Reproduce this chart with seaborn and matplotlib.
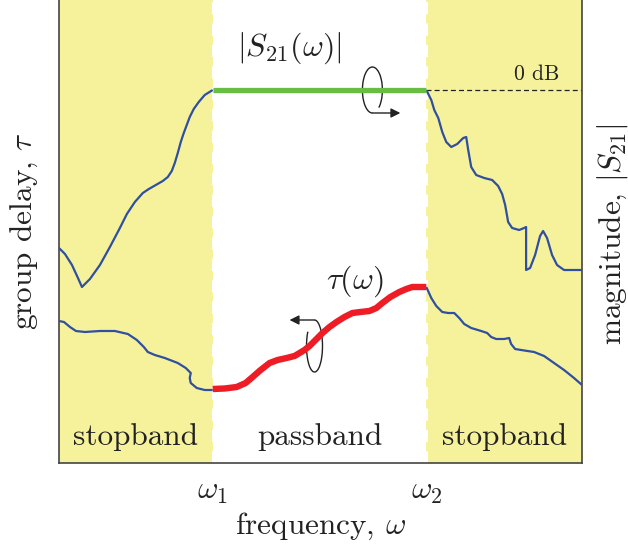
import numpy as np
import pandas as pd
import matplotlib.pyplot as plt
import seaborn as sns
from matplotlib.patches import Arc

sns.set_theme(style="white")
plt.rcParams['font.family'] = ['serif']
plt.rcParams['font.serif'] = ['cmr10', 'DejaVu Serif']
plt.rcParams['mathtext.fontset'] = 'cm'
plt.rcParams['axes.formatter.use_mathtext'] = True

# band edges (frequency units)
w1, w2 = 154, 368
x_max, y_max = 524, 463

# |S21| in lower stopband
mag_low_x = [0, 6, 13, 19, 23, 31, 41, 51, 61, 68, 76, 84, 90, 97, 104, 109, 113, 116, 119, 122, 125,
             128, 131, 135, 140, 146, 154]
mag_low_y = [215, 209, 198, 185, 176, 184, 198, 216, 235, 249, 261, 270, 274, 278, 282, 286, 292, 300, 310, 321, 330,
             338, 346, 354, 361, 368, 373]

# |S21| in passband (0 dB)
mag_pass_x = [154, 368]
mag_pass_y = [373, 373]

# |S21| in upper stopband
mag_high_x = [368, 373, 376, 380, 384, 388, 393, 399, 405, 408, 410, 413, 418, 426, 434, 440, 444, 447, 450,
              454, 461, 466, 468, 468, 472, 477, 482, 485, 489, 494, 499, 506, 516, 524]
mag_high_y = [373, 363, 353, 345, 331, 321, 316, 319, 325, 326, 313, 296, 288, 285, 283, 277, 269, 258, 241,
              235, 233, 235, 236, 193, 195, 208, 227, 232, 225, 208, 198, 193, 193, 193]

# group delay in lower stopband
tau_low_x = [0, 5, 11, 17, 26, 41, 56, 69, 78, 85, 89, 96, 106, 119, 127, 132, 131, 132, 138, 146, 154]
tau_low_y = [142, 141, 136, 132, 131, 132, 132, 129, 123, 116, 111, 108, 105, 100, 95, 90, 85, 80, 75, 73, 73]

# group delay in passband
tau_pass_x = [154, 166, 178, 187, 194, 202, 211, 219, 228, 236, 241, 246, 251, 257, 264, 271, 278, 286, 294,
              302, 311, 318, 324, 332, 341, 348, 354, 361, 368]
tau_pass_y = [74, 74.5, 76, 80, 86, 93, 100, 103, 105, 107, 110, 113, 117, 123, 130, 136, 141, 146, 150,
              151, 152, 155, 160, 166, 171, 174, 176, 176, 176]

# group delay in upper stopband
tau_high_x = [368, 373, 378, 384, 390, 396, 401, 406, 413, 423, 429, 433, 438, 446, 451, 453, 457, 463, 476,
              486, 496, 506, 516, 524]
tau_high_y = [176, 165, 157, 151, 150, 150, 145, 139, 135, 132, 130, 126, 124, 124, 125, 119, 114, 113, 111,
              107, 100, 93, 85, 78]

band_labels = ['stopband', 'passband', 'stopband']

yellow = '#f6f29b'
blue = '#2f4fa2'
green = '#68bd45'
red = '#ee1d25'
ink = '#222222'

fig = plt.figure(figsize=(6.28, 5.5), dpi=100)
ax = fig.add_axes([59 / 628, 1 - 463 / 550, 523 / 628, 463 / 550])

ax.axvspan(0, w1, color=yellow, lw=0)
ax.axvspan(w2, x_max, color=yellow, lw=0)
for edge in (w1, w2):
    ax.axvline(edge, color='white', lw=2.2, ls=(0, (4, 3)))


def draw(xs, ys, color, lw, z=3):
    df = pd.DataFrame({'x': xs, 'y': ys})
    sns.lineplot(data=df, x='x', y='y', ax=ax, color=color, lw=lw, zorder=z,
                 sort=False, estimator=None, solid_capstyle='butt', solid_joinstyle='round')


draw(mag_low_x, mag_low_y, blue, 1.6)
draw(mag_high_x, mag_high_y, blue, 1.6)
draw(tau_low_x, tau_low_y, blue, 1.6)
draw(tau_high_x, tau_high_y, blue, 1.6)

# rotation arrows (behind the thick curves)
ax.add_patch(Arc((314, 373), 20, 46, theta1=-70, theta2=270, color=ink, lw=1.0, zorder=2))
ax.annotate('', xy=(342, 350), xytext=(314, 350),
            arrowprops=dict(arrowstyle='-|>', color=ink, lw=1.0, mutation_scale=14,
                            shrinkA=0, shrinkB=0), zorder=2)
ax.add_patch(Arc((256, 117), 16, 52, theta1=115, theta2=450, color=ink, lw=1.0, zorder=2))
ax.annotate('', xy=(231, 143), xytext=(256, 143),
            arrowprops=dict(arrowstyle='-|>', color=ink, lw=1.0, mutation_scale=14,
                            shrinkA=0, shrinkB=0), zorder=2)

draw(mag_pass_x, mag_pass_y, green, 3.8)
draw(tau_pass_x, tau_pass_y, red, 4.6)

ax.plot([w2, x_max], [373, 373], color=ink, lw=0.9, ls=(0, (4, 2.5)))
ax.text(479, 379, '0 dB', fontsize=15.5, color=ink, ha='center', va='bottom')

ax.text(231, 397, r'$|S_{21}(\omega)|$', fontsize=23, color=ink, ha='center', va='bottom')
ax.text(296, 164, r'$\tau(\omega)$', fontsize=23, color=ink, ha='center', va='bottom')

centers = [w1 / 2, (w1 + w2) / 2, (w2 + x_max) / 2]
for cx, lab in zip(centers, band_labels):
    ax.text(cx, 26, lab, fontsize=22.5, color=ink, ha='center', va='center')

ax.set_xlim(0, x_max)
ax.set_ylim(0, y_max)
ax.set_xticks([w1, w2])
ax.set_xticklabels([r'$\omega_1$', r'$\omega_2$'], fontsize=22.5, color=ink)
ax.set_yticks([])
ax.tick_params(axis='x', length=0, pad=11)
ax.set_xlabel(r'frequency, $\omega$', fontsize=22.5, color=ink, labelpad=3)
ax.set_ylabel(r'group delay, $\tau$', fontsize=22.5, color=ink, labelpad=14)
fig.text(612 / 628, 1 - 234 / 550, r'magnitude, $|S_{21}|$', fontsize=22.5, color=ink,
         rotation=90, ha='center', va='center')

for side in ('left', 'right', 'bottom'):
    ax.spines[side].set_color('#444444')
    ax.spines[side].set_linewidth(1.2)
ax.spines['top'].set_visible(False)

fig.savefig('out.png', dpi=100)
